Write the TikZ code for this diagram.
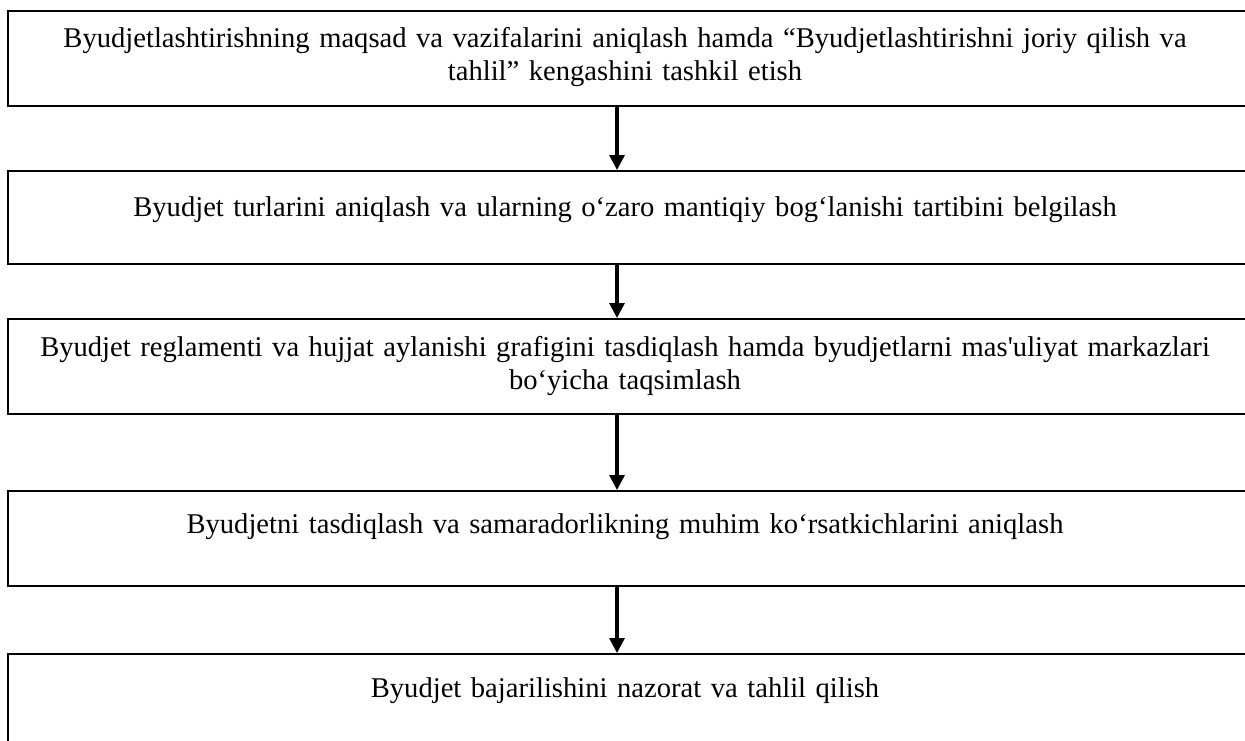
\documentclass[tikz,border=0pt]{standalone}
\usepackage{fontspec}
\setmainfont{Liberation Serif}
\usetikzlibrary{arrows.meta}
\tikzset{
	stepbox/.style={draw, line width=1pt, minimum width=631.5pt, anchor=north west, inner sep=0pt},
	steptext/.style={anchor=base, inner sep=0pt, text width=620pt, align=center, font=\fontsize{14.3}{16.5}\selectfont},
	steparrow/.style={line width=1.6pt, -{Triangle[length=7.5pt,width=7.5pt]}}
}
\begin{document}
\begin{tikzpicture}[x=0.5pt, y=-0.5pt]
	\useasboundingbox (0,0) rectangle (1245,740);
	\clip (0,0) rectangle (1245,740);
	%boxes
	\node[stepbox, minimum height=47.5pt] (b1) at (7,10) {};
	\node[stepbox, minimum height=46.5pt] (b2) at (7,170) {};
	\node[stepbox, minimum height=47.5pt] (b3) at (7,318) {};
	\node[stepbox, minimum height=47.5pt] (b4) at (7,490) {};
	\node[stepbox, minimum height=50pt] (b5) at (7,653) {};
	%texts
	\node[steptext] (t1) at (625,47) {Byudjetlashtirishning maqsad va vazifalarini aniqlash hamda “Byudjetlashtirishni joriy qilish va\\ tahlil” kengashini tashkil etish};
	\node[steptext] (t2) at (625,216) {Byudjet turlarini aniqlash va ularning o‘zaro mantiqiy bog‘lanishi tartibini belgilash};
	\node[steptext] (t3) at (625,356) {Byudjet reglamenti va hujjat aylanishi grafigini tasdiqlash hamda byudjetlarni mas\textquotesingle uliyat markazlari\\ bo‘yicha taqsimlash};
	\node[steptext] (t4) at (625,533) {Byudjetni tasdiqlash va samaradorlikning muhim ko‘rsatkichlarini aniqlash};
	\node[steptext] (t5) at (625,697) {Byudjet bajarilishini nazorat va tahlil qilish};
	%arrows
	\coordinate (col) at (617,0);
	\foreach \a/\b in {b1/b2, b2/b3, b3/b4, b4/b5}
		\draw[steparrow] (\a.south -| col) -- (\b.north -| col);
\end{tikzpicture}
\end{document}
